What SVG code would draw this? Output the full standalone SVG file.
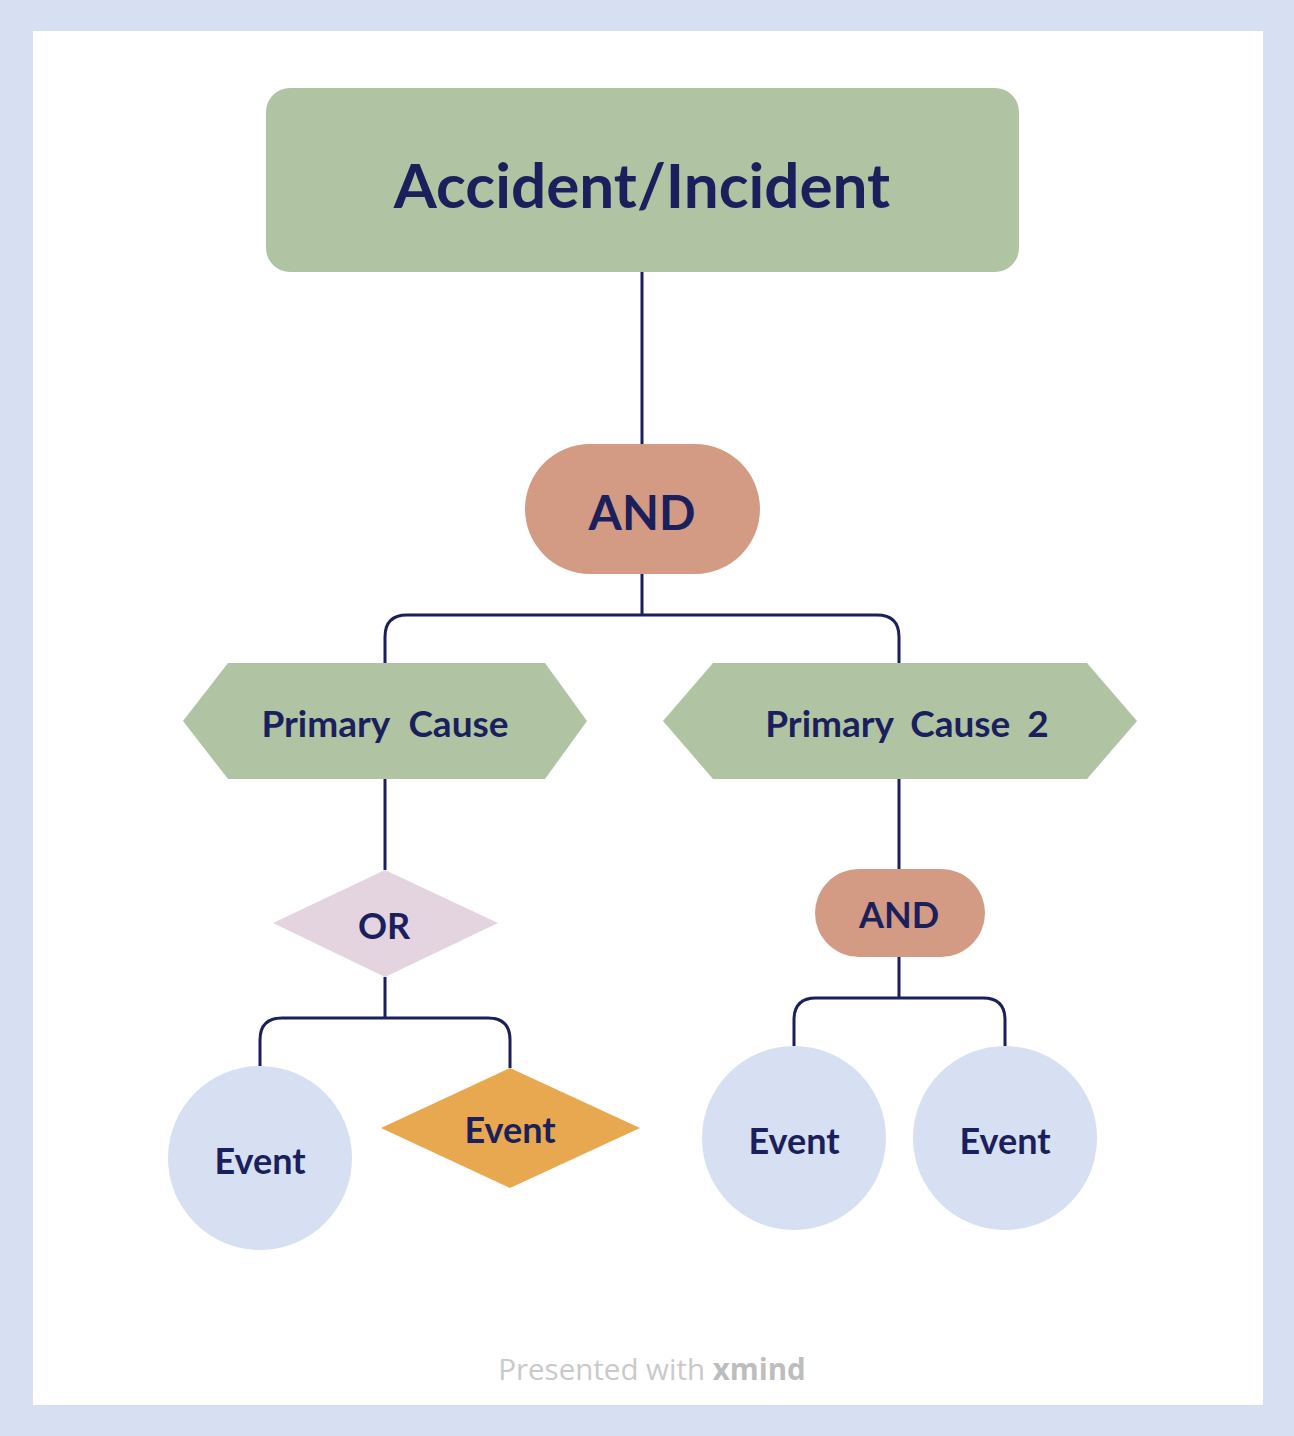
<svg xmlns="http://www.w3.org/2000/svg" width="1294" height="1436" viewBox="0 0 1294 1436">
<style>
.lbl{font-family:Lato,"Noto Sans",sans-serif;font-weight:700;fill:#1b1f5c;text-anchor:middle}
.conn{fill:none;stroke:#1b1f5c;stroke-width:3}
.green{fill:#b0c4a4}
.and{fill:#d39a84}
.ev{fill:#d6e0f2}
</style>
<rect x="0" y="0" width="1294" height="1436" fill="#d6e0f2"/>
<rect x="33" y="31" width="1230" height="1374" fill="#ffffff"/>
<g id="connectors">
<path class="conn" d="M642 272V444"/>
<path class="conn" d="M642 574V615M385 663V637Q385 615 407 615H877Q899 615 899 637V663"/>
<path class="conn" d="M385 779V870"/>
<path class="conn" d="M385 977V1018M260 1066V1040Q260 1018 282 1018H488Q510 1018 510 1040V1068"/>
<path class="conn" d="M899 779V869"/>
<path class="conn" d="M899 957V998M794 1046V1020Q794 998 816 998H983Q1005 998 1005 1020V1046"/>
</g>
<g id="root">
<rect class="green" x="266" y="88" width="753" height="184" rx="24"/>
<text class="lbl" x="642" y="208" font-size="62">Accident/Incident</text>
</g>
<g id="and1">
<rect class="and" x="525" y="444" width="235" height="130" rx="65"/>
<text class="lbl" x="642" y="530" font-size="48">AND</text>
</g>
<g id="pc1">
<polygon class="green" points="183,721 228,663 545,663 587,721 545,779 228,779"/>
<text class="lbl" x="385" y="737" font-size="37" word-spacing="10">Primary Cause</text>
</g>
<g id="pc2">
<polygon class="green" points="663,721 713,663 1087,663 1137,721 1087,779 713,779"/>
<text class="lbl" x="907" y="737" font-size="37" word-spacing="8">Primary Cause 2</text>
</g>
<g id="or">
<polygon fill="#e4d4e0" points="385,870 498,923 385,977 273,923"/>
<text class="lbl" x="384" y="939" font-size="36">OR</text>
</g>
<g id="and2">
<rect class="and" x="815" y="869" width="170" height="88" rx="44"/>
<text class="lbl" x="899" y="928" font-size="36">AND</text>
</g>
<g id="ev1">
<circle class="ev" cx="260" cy="1158" r="92"/>
<text class="lbl" x="260" y="1174" font-size="36">Event</text>
</g>
<g id="ev2">
<polygon fill="#e8a850" points="510,1068 640,1128 510,1188 381,1128"/>
<text class="lbl" x="510" y="1143" font-size="36">Event</text>
</g>
<g id="ev3">
<circle class="ev" cx="794" cy="1138" r="92"/>
<text class="lbl" x="794" y="1154" font-size="36">Event</text>
</g>
<g id="ev4">
<circle class="ev" cx="1005" cy="1138" r="92"/>
<text class="lbl" x="1005" y="1154" font-size="36">Event</text>
</g>
<text x="652" y="1380" font-family="'Open Sans',sans-serif" font-size="29.5" fill="#c9c9c9" text-anchor="middle">Presented with <tspan font-weight="700" fill="#bdbdbd">xmind</tspan></text>
</svg>
